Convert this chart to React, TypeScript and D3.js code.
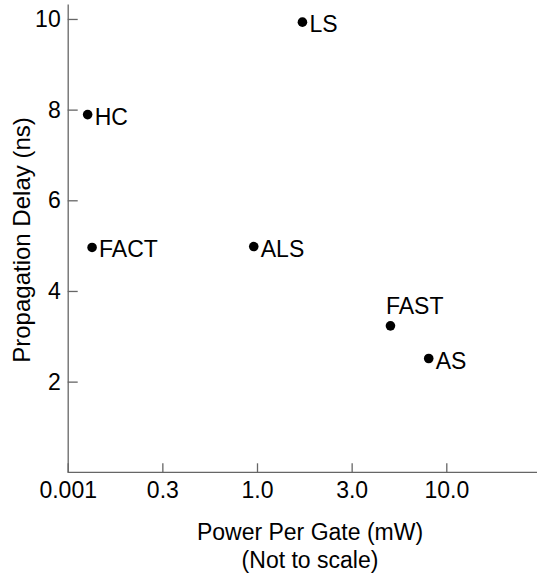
import React, { useEffect, useRef } from 'react';
import * as d3 from 'd3';

// Logic families: power per gate (mW) vs propagation delay (ns)
const families = ['HC', 'FACT', 'ALS', 'LS', 'FAST', 'AS'];
const powerMw = [0.064, 0.078, 0.976, 1.96, 5.87, 8.7];
const delayNs = [7.89, 4.96, 4.98, 9.93, 3.23, 2.51];
const labelAbove = [false, false, false, false, true, false];

const xTickValues = [0.001, 0.3, 1, 3, 10];
const xTickLabels = ['0.001', '0.3', '1.0', '3.0', '10.0'];
const yTickValues = [2, 4, 6, 8, 10];

const W = 537;
const H = 580;
const FONT = 'Liberation Sans, Arial, Helvetica, sans-serif';
const FS = '23px';

export default function App() {
  const svgRef = useRef<SVGSVGElement>(null);

  useEffect(() => {
    if (!svgRef.current) return;
    const svg = d3.select(svgRef.current);
    svg.selectAll('*').remove();

    const left = 67.7;
    const bottom = 472.3;
    const step = 94.65;

    // Not to scale: each tick is equally spaced, piecewise linear between
    const x = d3
      .scaleLinear()
      .domain(xTickValues)
      .range(xTickValues.map((_, i) => left + i * step));

    const y = d3.scaleLinear().domain([0, 10.33]).range([bottom, 4]);

    const axisColor = '#666';

    // Y axis
    const gy = svg
      .append('g')
      .attr('transform', `translate(${left},0)`)
      .call(
        d3
          .axisLeft(y)
          .tickValues(yTickValues)
          .tickFormat(d3.format('d'))
          .tickSizeInner(-10)
          .tickSizeOuter(0)
          .tickPadding(7)
      );
    gy.select('.domain').attr('stroke', axisColor).attr('stroke-width', 1.3);
    gy.selectAll('.tick line').attr('stroke', axisColor).attr('stroke-width', 1.3);
    gy.selectAll('.tick text')
      .attr('fill', '#000')
      .style('font-family', FONT)
      .style('font-size', FS);

    // X axis
    const gx = svg
      .append('g')
      .attr('transform', `translate(0,${bottom})`)
      .call(
        d3
          .axisBottom(x)
          .tickValues(xTickValues)
          .tickFormat((_, i) => xTickLabels[i])
          .tickSizeInner(-9)
          .tickSizeOuter(0)
          .tickPadding(9)
      );
    gx.select('.domain').remove();
    gx.append('line')
      .attr('x1', left)
      .attr('x2', W)
      .attr('stroke', axisColor)
      .attr('stroke-width', 1.3);
    gx.selectAll('.tick line').attr('stroke', axisColor).attr('stroke-width', 1.3);
    gx.selectAll('.tick text')
      .attr('fill', '#000')
      .style('font-family', FONT)
      .style('font-size', FS);

    // Points
    const pts = families.map((name, i) => ({
      name,
      px: x(powerMw[i]),
      py: y(delayNs[i]),
      above: labelAbove[i],
    }));

    svg
      .append('g')
      .selectAll('circle')
      .data(pts)
      .enter()
      .append('circle')
      .attr('cx', (d) => d.px)
      .attr('cy', (d) => d.py)
      .attr('r', 4.8)
      .attr('fill', '#000');

    svg
      .append('g')
      .selectAll('text')
      .data(pts)
      .enter()
      .append('text')
      .attr('x', (d) => (d.above ? d.px - 4.5 : d.px + 7))
      .attr('y', (d) => (d.above ? d.py - 12 : d.py + 10))
      .style('font-family', FONT)
      .style('font-size', FS)
      .attr('fill', '#000')
      .text((d) => d.name);

    // Axis titles
    svg
      .append('text')
      .attr('transform', `translate(30,240) rotate(-90)`)
      .attr('text-anchor', 'middle')
      .style('font-family', FONT)
      .style('font-size', '24px')
      .text('Propagation Delay (ns)');

    const xt = svg
      .append('text')
      .attr('text-anchor', 'middle')
      .style('font-family', FONT)
      .style('font-size', FS);
    xt.append('tspan').attr('x', 310).attr('y', 540).text('Power Per Gate (mW)');
    xt.append('tspan').attr('x', 310).attr('y', 568).text('(Not to scale)');
  }, []);

  return (
    <svg
      ref={svgRef}
      width={W}
      height={H}
      style={{ position: 'absolute', left: 0, top: 0, background: '#fff' }}
    />
  );
}
